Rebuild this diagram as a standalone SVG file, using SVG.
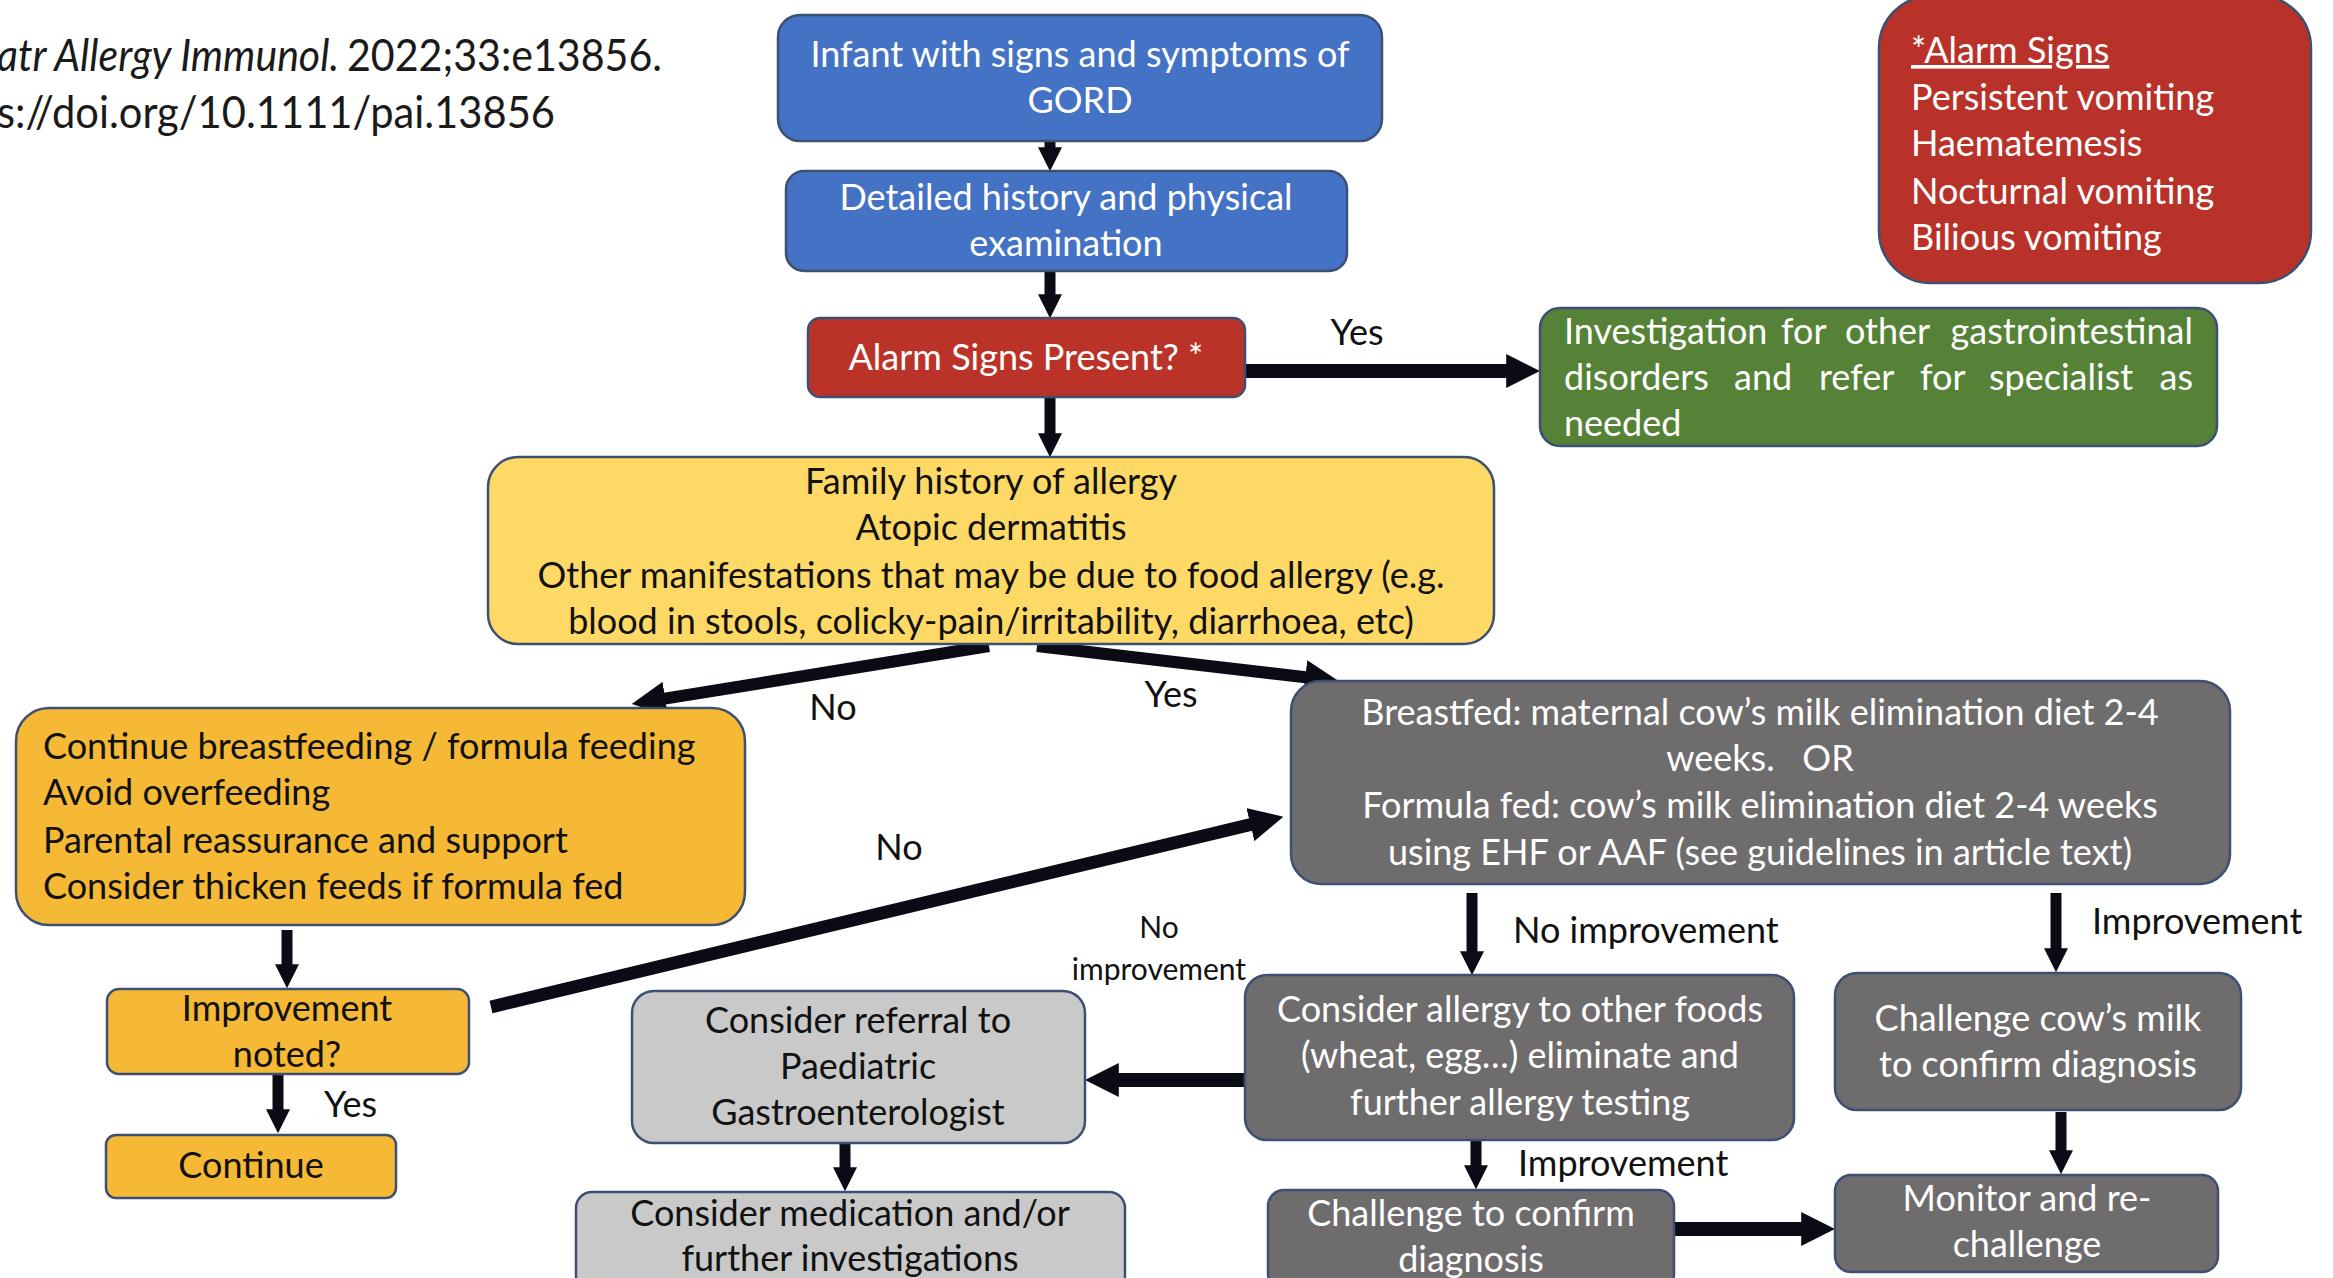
<svg xmlns="http://www.w3.org/2000/svg" width="2333" height="1278" viewBox="0 0 2333 1278">
<defs>
<style>
.n{stroke:#3d4f73;stroke-width:2.5}
.t{font-family:Lato,"Open Sans","Liberation Sans",sans-serif;font-size:36px}
.w{fill:#ffffff}
.d{fill:#111111}
.c{text-anchor:middle}
.s{font-size:30px}
.cn{fill:none;stroke:#0b0b16;stroke-width:11}
.th{stroke-width:14}
.cite{font-family:Lato,"Liberation Sans",sans-serif;font-size:44px;fill:#1a1a1a}
</style>
<marker id="ah" viewBox="0 0 10 10" refX="2" refY="5" markerWidth="24" markerHeight="24" markerUnits="userSpaceOnUse" orient="auto"><path d="M0,0 L10,5 L0,10 z" fill="#0b0b16"/></marker>
<marker id="ahb" viewBox="0 0 10 10" refX="2" refY="5" markerWidth="34" markerHeight="34" markerUnits="userSpaceOnUse" orient="auto"><path d="M0,0 L10,5 L0,10 z" fill="#0b0b16"/></marker>
</defs>
<rect width="2333" height="1278" fill="#ffffff"/>

<g id="citation">
<text class="cite" x="-3" y="71" font-style="italic" textLength="342" lengthAdjust="spacingAndGlyphs">atr Allergy Immunol.</text>
<text class="cite" x="347" y="71" textLength="315" lengthAdjust="spacingAndGlyphs">2022;33:e13856.</text>
<text class="cite" x="-3" y="128" textLength="558" lengthAdjust="spacingAndGlyphs">s://doi.org/10.1111/pai.13856</text>
</g>

<g id="connectors">
<path class="cn" d="M1050,141 V152" marker-end="url(#ah)"/>
<path class="cn" d="M1050,271 V299" marker-end="url(#ah)"/>
<path class="cn th" d="M1245,371 H1513" marker-end="url(#ahb)"/>
<path class="cn" d="M1050,397 V438" marker-end="url(#ah)"/>
<path class="cn" style="stroke-width:12" d="M989,646 L658.6,699.7" marker-end="url(#ahb)"/>
<path class="cn" style="stroke-width:12" d="M1037,646 L1312,678" marker-end="url(#ahb)"/>
<path class="cn" style="stroke-width:13" d="M491,1007 L1257,823" marker-end="url(#ahb)"/>
<path class="cn" d="M287,930 V969" marker-end="url(#ah)"/>
<path class="cn" d="M278,1074 V1114" marker-end="url(#ah)"/>
<path class="cn" d="M1472,893 V956" marker-end="url(#ah)"/>
<path class="cn" d="M2056,893 V953" marker-end="url(#ah)"/>
<path class="cn th" d="M1245,1080 H1112" marker-end="url(#ahb)"/>
<path class="cn" d="M845,1143 V1172" marker-end="url(#ah)"/>
<path class="cn" d="M1476,1140 V1170" marker-end="url(#ah)"/>
<path class="cn" d="M2061,1112 V1155" marker-end="url(#ah)"/>
<path class="cn th" d="M1674,1229 H1808" marker-end="url(#ahb)"/>
<text class="t d c" x="1357" y="345">Yes</text>
<text class="t d c" x="833" y="720">No</text>
<text class="t d c" x="1171" y="707">Yes</text>
<text class="t d c" x="899" y="860">No</text>
<text class="t d" x="1513" y="943">No improvement</text>
<text class="t d" x="2092" y="934">Improvement</text>
<text class="t s d c" x="1159" y="938">No</text>
<text class="t s d c" x="1159" y="980">improvement</text>
<text class="t d" x="324" y="1117">Yes</text>
<text class="t d" x="1518" y="1176">Improvement</text>
</g>

<g id="n1">
<rect class="n" x="778" y="15" width="604" height="126" rx="22" fill="#4472c4"/>
<text class="t w c" x="1080" y="67">Infant with signs and symptoms of</text>
<text class="t w c" x="1080" y="113">GORD</text>
</g>

<g id="n2">
<rect class="n" x="786" y="171" width="561" height="100" rx="18" fill="#4472c4"/>
<text class="t w c" x="1066" y="210">Detailed history and physical</text>
<text class="t w c" x="1066" y="256">examination</text>
</g>

<g id="n3">
<rect class="n" x="808" y="318" width="437" height="79" rx="12" fill="#bb3328"/>
<text class="t w c" x="1026" y="370">Alarm Signs Present? *</text>
</g>

<g id="n4">
<rect class="n" x="1540" y="308" width="677" height="138" rx="20" fill="#558236"/>
<text class="t w" y="344"><tspan x="1564">Investigation</tspan><tspan x="1781">for</tspan><tspan x="1845">other</tspan><tspan x="2193" text-anchor="end">gastrointestinal</tspan></text>
<text class="t w" y="390"><tspan x="1564">disorders</tspan><tspan x="1734">and</tspan><tspan x="1819">refer</tspan><tspan x="1920">for</tspan><tspan x="1989">specialist</tspan><tspan x="2193" text-anchor="end">as</tspan></text>
<text class="t w" x="1564" y="436">needed</text>
</g>

<g id="n5">
<rect class="n" x="1879" y="-4" width="432" height="287" rx="52" fill="#b9322a"/>
<text class="t w" x="1911" y="63" text-decoration="underline">*Alarm Signs</text>
<text class="t w" x="1911" y="110">Persistent vomiting</text>
<text class="t w" x="1911" y="156">Haematemesis</text>
<text class="t w" x="1911" y="204">Nocturnal vomiting</text>
<text class="t w" x="1911" y="250">Bilious vomiting</text>
</g>

<g id="n6">
<rect class="n" x="488" y="457" width="1006" height="187" rx="30" fill="#ffd966"/>
<text class="t d c" x="991" y="494">Family history of allergy</text>
<text class="t d c" x="991" y="540">Atopic dermatitis</text>
<text class="t d c" x="991" y="588">Other manifestations that may be due to food allergy (e.g.</text>
<text class="t d c" x="991" y="634">blood in stools, colicky-pain/irritability, diarrhoea, etc)</text>
</g>

<g id="n7">
<rect class="n" x="16" y="708" width="729" height="217" rx="33" fill="#f5b935"/>
<text class="t d" x="43" y="759">Continue breastfeeding / formula feeding</text>
<text class="t d" x="43" y="805">Avoid overfeeding</text>
<text class="t d" x="43" y="853">Parental reassurance and support</text>
<text class="t d" x="43" y="899">Consider thicken feeds if formula fed</text>
</g>

<g id="n8">
<rect class="n" x="1291" y="681" width="939" height="203" rx="30" fill="#6f6c6d"/>
<text class="t w c" x="1760" y="725">Breastfed: maternal cow’s milk elimination diet 2-4</text>
<text class="t w c" x="1760" y="771" xml:space="preserve">weeks.   OR</text>
<text class="t w c" x="1760" y="818">Formula fed: cow’s milk elimination diet 2-4 weeks</text>
<text class="t w c" x="1760" y="865">using EHF or AAF (see guidelines in article text)</text>
</g>

<g id="n9">
<rect class="n" x="107" y="989" width="362" height="85" rx="12" fill="#f5b935"/>
<text class="t d c" x="287" y="1021">Improvement</text>
<text class="t d c" x="287" y="1067">noted?</text>
</g>

<g id="n10">
<rect class="n" x="106" y="1135" width="290" height="63" rx="10" fill="#f5b935"/>
<text class="t d c" x="251" y="1178">Continue</text>
</g>

<g id="n11">
<rect class="n" x="632" y="991" width="453" height="152" rx="22" fill="#c9c9c9"/>
<text class="t d c" x="858" y="1033">Consider referral to</text>
<text class="t d c" x="858" y="1079">Paediatric</text>
<text class="t d c" x="858" y="1125">Gastroenterologist</text>
</g>

<g id="n12">
<rect class="n" x="1245" y="975" width="549" height="165" rx="22" fill="#6f6c6d"/>
<text class="t w c" x="1520" y="1022">Consider allergy to other foods</text>
<text class="t w c" x="1520" y="1068">(wheat, egg…) eliminate and</text>
<text class="t w c" x="1520" y="1115">further allergy testing</text>
</g>

<g id="n13">
<rect class="n" x="1835" y="973" width="406" height="137" rx="22" fill="#6f6c6d"/>
<text class="t w c" x="2038" y="1031">Challenge cow’s milk</text>
<text class="t w c" x="2038" y="1077">to confirm diagnosis</text>
</g>

<g id="n14">
<rect class="n" x="576" y="1192" width="549" height="100" rx="16" fill="#c9c9c9"/>
<text class="t d c" x="850" y="1226">Consider medication and/or</text>
<text class="t d c" x="850" y="1271">further investigations</text>
</g>

<g id="n15">
<rect class="n" x="1268" y="1190" width="406" height="100" rx="16" fill="#6f6c6d"/>
<text class="t w c" x="1471" y="1226">Challenge to confirm</text>
<text class="t w c" x="1471" y="1272">diagnosis</text>
</g>

<g id="n16">
<rect class="n" x="1835" y="1175" width="383" height="97" rx="16" fill="#6f6c6d"/>
<text class="t w c" x="2027" y="1211">Monitor and re-</text>
<text class="t w c" x="2027" y="1257">challenge</text>
</g>
</svg>
